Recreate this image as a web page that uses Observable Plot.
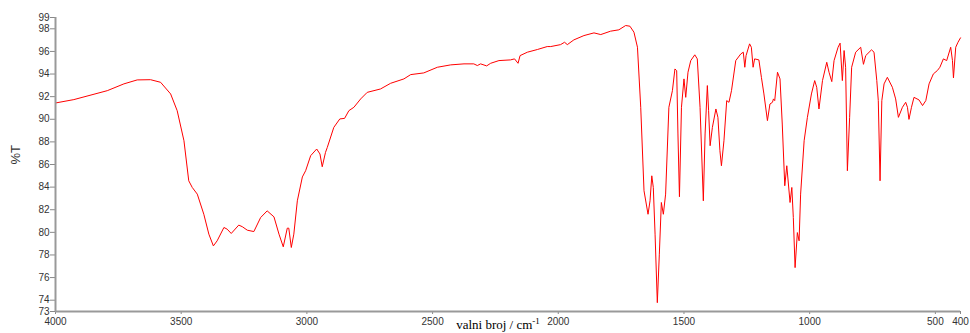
<!DOCTYPE html>
<html>
<head>
<meta charset="utf-8">
<script src="https://cdn.jsdelivr.net/npm/d3@7"></script>
<script src="https://cdn.jsdelivr.net/npm/@observablehq/plot@0.6"></script>
<style>
  html, body { margin: 0; padding: 0; background: #fff; }
</style>
</head>
<body>
<div id="chart"></div>
<script>
const wavenumber = [4000,3927,3794,3728,3675,3622,3582,3542,3516,3489,3470,3456,3436,3410,3390,3372,3357,3330,3317,3301,3271,3257,3237,3211,3184,3158,3131,3111,3094,3078,3072,3062,3052,3038,3018,3005,2985,2961,2948,2939,2926,2919,2893,2869,2850,2833,2813,2786,2760,2707,2667,2614,2587,2535,2481,2428,2375,2336,2322,2309,2285,2269,2236,2190,2174,2160,2152,2123,2083,2044,2030,1991,1975,1964,1938,1898,1858,1831,1792,1759,1732,1715,1699,1685,1672,1659,1643,1635,1628,1622,1615,1606,1598,1590,1582,1573,1560,1546,1536,1529,1524,1518,1510,1500,1493,1484,1473,1457,1447,1436,1423,1416,1407,1402,1396,1387,1373,1365,1357,1351,1341,1330,1321,1311,1294,1274,1264,1258,1253,1239,1232,1225,1219,1202,1192,1182,1168,1158,1148,1144,1139,1128,1118,1109,1099,1091,1078,1071,1065,1058,1049,1042,1036,1022,1009,993,980,972,963,949,932,923,912,903,887,879,870,863,857,850,841,833,817,797,786,777,754,744,733,727,720,713,704,691,671,658,647,631,618,611,605,595,585,565,551,538,525,508,492,482,468,455,439,432,428,419,410,400];
const transmittance = [91.44,91.74,92.53,93.13,93.48,93.5,93.27,92.24,90.76,88.1,84.56,83.97,83.38,81.6,79.84,78.8,79.25,80.43,80.28,79.9,80.64,80.5,80.19,80.07,81.31,81.9,81.37,79.84,78.72,80.37,80.37,78.66,79.84,82.79,84.9,85.45,86.78,87.37,86.93,85.8,87.07,87.5,89.28,90.03,90.08,90.76,91.06,91.8,92.38,92.68,93.18,93.57,93.95,94.1,94.6,94.81,94.9,94.9,94.75,94.9,94.72,94.95,95.19,95.25,95.34,94.95,95.63,95.93,96.17,96.43,96.43,96.6,96.81,96.6,97.02,97.4,97.64,97.49,97.79,97.91,98.29,98.23,97.7,96.37,91.06,83.68,81.6,82.79,85.0,83.97,79.84,73.78,78.07,82.64,81.6,83.38,91.06,92.53,94.45,94.3,88.7,83.15,91.06,93.57,91.94,94.16,95.19,95.7,95.34,91.06,82.79,88.7,92.98,90.76,87.66,89.28,90.91,90.17,87.22,85.89,88.1,91.65,91.5,92.53,95.19,95.78,95.93,94.6,95.63,96.67,96.37,94.6,95.34,95.25,93.71,92.24,89.88,91.35,91.5,91.8,91.65,94.16,93.57,89.58,84.12,85.89,82.64,83.97,81.31,76.88,79.98,79.25,83.38,88.1,90.17,92.24,93.42,92.83,90.91,93.42,95.04,94.16,93.33,95.19,96.37,96.73,93.42,96.08,94.6,85.45,90.17,94.6,95.93,96.37,94.86,95.63,96.14,95.93,93.42,91.65,84.56,91.65,93.13,93.71,92.83,91.8,90.17,91.06,91.5,91.06,89.99,91.06,91.94,91.71,91.21,91.65,93.13,94.01,94.31,94.6,95.34,95.19,96.37,95.19,93.66,96.37,96.81,97.2];
const xTicks = [4000, 3500, 3000, 2500, 2000, 1500, 1000, 500, 400];
const yTicks = [73, 74, 76, 78, 80, 82, 84, 86, 88, 90, 92, 94, 96, 98, 99];
const xLabel = "valni broj / cm";
const xLabelSup = "-1";
const yLabel = "%T";

const spectrum = wavenumber.map((w, i) => ({w, t: transmittance[i]}));

const svg = Plot.plot({
  width: 970,
  height: 333,
  marginLeft: 55,
  marginRight: 10,
  marginTop: 17,
  marginBottom: 22,
  style: {fontFamily: "'Liberation Sans', Arial, sans-serif", fontSize: "10px", color: "#333", background: "#fff"},
  x: {domain: [4000, 400]},
  y: {domain: [73, 99]},
  marks: [
    Plot.line(spectrum, {x: "w", y: "t", stroke: "#ff0000", strokeWidth: 1}),
    Plot.axisX({ticks: xTicks, tickFormat: "d", tickSize: 3, tickPadding: 3, label: null, stroke: "#888"}),
    Plot.axisY({ticks: yTicks, tickFormat: "d", tickSize: 5, tickPadding: 1, label: null, stroke: "#888"}),
    Plot.ruleY([73], {stroke: "#999", strokeWidth: 2}),
    Plot.ruleX([4000], {stroke: "#999", strokeWidth: 2}),
    Plot.text([xLabel], {frameAnchor: "bottom", dx: -10, dy: 17, fontFamily: "'Liberation Serif', 'Times New Roman', serif", fontSize: 13, fill: "#000"}),
    Plot.text([yLabel], {frameAnchor: "left", dx: -40, rotate: -90, fontSize: 13, fill: "#333"})
  ]
});

d3.select(svg).selectAll("text").filter(function() { return this.textContent === xLabel; })
  .each(function() {
    d3.select(this).append("tspan").attr("dy", "-5").attr("font-size", "9").text(xLabelSup);
  });

document.getElementById("chart").appendChild(svg);
</script>
</body>
</html>
